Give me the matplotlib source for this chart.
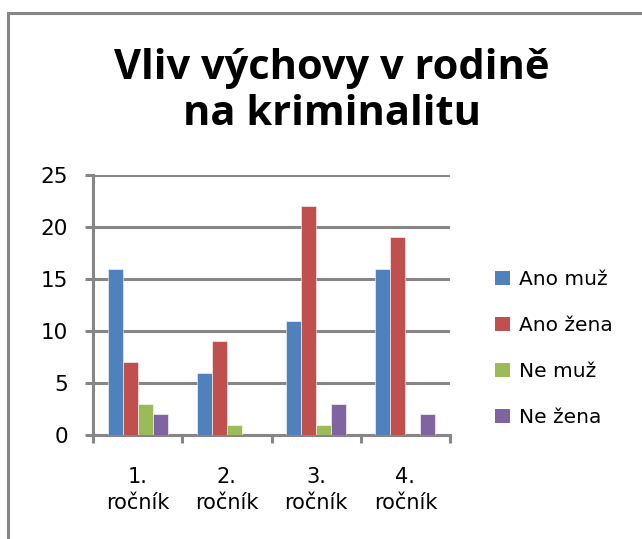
import numpy as np
import matplotlib
matplotlib.use("Agg")
import matplotlib.pyplot as plt
from matplotlib.patches import Rectangle, Patch

# data
categories = ["1.\nročník", "2.\nročník", "3.\nročník", "4.\nročník"]
series_names = ["Ano muž", "Ano žena", "Ne muž", "Ne žena"]
ano_muz = [16, 6, 11, 16]
ano_zena = [7, 9, 22, 19]
ne_muz = [3, 1, 1, 0]
ne_zena = [2, 0, 3, 2]
y_ticks = [0, 5, 10, 15, 20, 25]

colors = ["#4F81BD", "#C0504D", "#9BBB59", "#8064A2"]
grid_color = "#868686"

plt.rcParams["font.family"] = ["DejaVu Sans"]

fig = plt.figure(figsize=(6.42, 5.39), dpi=100)
fig.patch.set_facecolor("white")

# outer chart frame (runs off the right and bottom edges)
frame = Rectangle((8 / 642, -0.2), 1.5, 1 - 13 / 539 + 0.2,
                  transform=fig.transFigure, fill=False,
                  edgecolor=grid_color, linewidth=2.2)
fig.patches.append(frame)

ax = fig.add_axes([93 / 642, 1 - 435 / 539, (450 - 93) / 642, (435 - 175) / 539])

x = np.arange(len(categories))
bw = 0.168
all_series = [ano_muz, ano_zena, ne_muz, ne_zena]
for i, vals in enumerate(all_series):
    offs = (i - 1.5) * bw
    ax.bar(x + offs, vals, width=bw, color=colors[i], zorder=3,
           edgecolor="white", linewidth=0.4)

ax.set_xlim(-0.5, len(categories) - 0.5)
ax.set_ylim(0, 25)
ax.set_yticks(y_ticks)
ax.set_yticklabels([str(v) for v in y_ticks])

# category boundaries as major ticks, labels on minor ticks
ax.set_xticks(np.arange(len(categories) + 1) - 0.5)
ax.set_xticklabels([])
ax.set_xticks(x, minor=True)
ax.set_xticklabels(categories, minor=True, linespacing=1.4)
ax.tick_params(axis="x", which="minor", length=0, pad=23, labelsize=15)
ax.tick_params(axis="x", which="major", direction="out", length=6,
               width=2.2, color=grid_color)
ax.tick_params(axis="y", direction="out", length=6, width=2.2,
               color=grid_color, pad=12, labelsize=15.5)

ax.yaxis.grid(True, color=grid_color, linewidth=2.2, zorder=1)
ax.set_axisbelow(True)
for side in ["top", "right"]:
    ax.spines[side].set_visible(False)
for side in ["left", "bottom"]:
    ax.spines[side].set_color(grid_color)
    ax.spines[side].set_linewidth(2.2)

# title
title_font = ["Open Sans", "DejaVu Sans"]
fig.text(332 / 642, 1 - 79 / 539, "Vliv výchovy v rodině", ha="center",
         va="baseline", fontsize=30, fontweight="bold", family=title_font)
fig.text(332 / 642, 1 - 125 / 539, "na kriminalitu", ha="center",
         va="baseline", fontsize=30, fontweight="bold", family=title_font)

handles = [Patch(facecolor=c, edgecolor="none") for c in colors]
fig.legend(handles, series_names, loc="center left",
           bbox_to_anchor=(495 / 642, 1 - 348.5 / 539),
           frameon=False, fontsize=14.5, handlelength=0.72,
           handleheight=0.72, handletextpad=0.45, labelspacing=1.35,
           borderpad=0, borderaxespad=0)

fig.savefig("out.png", dpi=100)
